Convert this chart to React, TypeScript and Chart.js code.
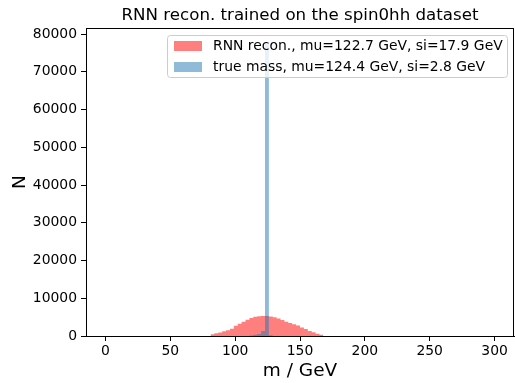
import React, { useEffect, useRef } from "react";
import { Chart, registerables } from "chart.js";

Chart.register(...registerables);

const TITLE = "RNN recon. trained on the spin0hh dataset";
const X_LABEL = "m / GeV";
const Y_LABEL = "N";
const BIN_WIDTH = 3;

const redLabel = "RNN recon., mu=122.7 GeV, si=17.9 GeV";
const redBinStarts = [81, 84, 87, 90, 93, 96, 99, 102, 105, 108, 111, 114, 117, 120, 123, 126, 129, 132, 135, 138, 141, 144, 147, 150, 153, 156, 159, 162, 165];
const redCounts = [450, 700, 900, 1250, 1550, 1950, 2700, 3250, 3800, 4300, 4800, 5100, 5200, 5300, 5300, 5150, 5000, 4650, 4250, 3800, 3450, 3100, 2750, 2250, 1850, 1350, 980, 620, 330];

const blueLabel = "true mass, mu=124.4 GeV, si=2.8 GeV";
const blueBinStarts = [111, 114, 117, 120, 123, 126];
const blueCounts = [150, 300, 550, 1300, 77700, 200];

const xTicks = [0, 50, 100, 150, 200, 250, 300];
const yTicks = [0, 10000, 20000, 30000, 40000, 50000, 60000, 70000, 80000];
const X_MIN = -15;
const X_MAX = 315;
const Y_MIN = 0;
const Y_MAX = 81590;

const RED = "rgba(255,0,0,0.5)";
const BLUE = "rgba(31,119,180,0.5)";
const FONT = "'DejaVu Sans', sans-serif";

// histogram outline: each bin drawn as a step from its left edge to its right edge
const toSteps = (starts: number[], counts: number[]) => {
  const pts = starts.map((s, i) => ({ x: s, y: counts[i] }));
  pts.push({ x: starts[starts.length - 1] + BIN_WIDTH, y: 0 });
  return pts;
};

const decorPlugin = {
  id: "decor",
  afterDatasetsDraw(chart: any) {
    const { ctx, chartArea } = chart;
    const { left, right, top, bottom } = chartArea;
    ctx.save();
    // legend
    const lx = 167.5, ly = 35.5, lw = 340, lh = 42, r = 3;
    ctx.beginPath();
    ctx.moveTo(lx + r, ly);
    ctx.lineTo(lx + lw - r, ly);
    ctx.arcTo(lx + lw, ly, lx + lw, ly + r, r);
    ctx.lineTo(lx + lw, ly + lh - r);
    ctx.arcTo(lx + lw, ly + lh, lx + lw - r, ly + lh, r);
    ctx.lineTo(lx + r, ly + lh);
    ctx.arcTo(lx, ly + lh, lx, ly + lh - r, r);
    ctx.lineTo(lx, ly + r);
    ctx.arcTo(lx, ly, lx + r, ly, r);
    ctx.closePath();
    ctx.fillStyle = "rgba(255,255,255,0.8)";
    ctx.fill();
    ctx.strokeStyle = "#cccccc";
    ctx.lineWidth = 1;
    ctx.stroke();
    ctx.fillStyle = RED;
    ctx.fillRect(174, 41, 28, 10);
    ctx.fillStyle = BLUE;
    ctx.fillRect(174, 62, 28, 10);
    ctx.fillStyle = "#000";
    ctx.font = `13.9px ${FONT}`;
    ctx.textAlign = "left";
    ctx.textBaseline = "middle";
    ctx.fillText(redLabel, 213, 46.5);
    ctx.fillText(blueLabel, 213, 67.5);
    // spines
    ctx.strokeStyle = "#000";
    ctx.lineWidth = 1;
    ctx.strokeRect(Math.round(left) + 0.5, Math.round(top) + 0.5, Math.round(right - left) - 1, Math.round(bottom - top));
    // title
    ctx.font = `16.67px ${FONT}`;
    ctx.textAlign = "center";
    ctx.textBaseline = "alphabetic";
    ctx.fillText(TITLE, (left + right) / 2, 20);
    // x label
    ctx.font = `18.5px ${FONT}`;
    ctx.fillText(X_LABEL, (left + right) / 2, 375.5);
    // y label
    ctx.translate(25, (top + bottom) / 2);
    ctx.rotate(-Math.PI / 2);
    ctx.fillText(Y_LABEL, 0, 0);
    ctx.restore();
  },
};

export default function App() {
  const ref = useRef<HTMLCanvasElement>(null);
  useEffect(() => {
    if (!ref.current) return;
    const chart = new Chart(ref.current, {
      type: "line",
      data: {
        datasets: [
          {
            label: redLabel,
            data: toSteps(redBinStarts, redCounts),
            backgroundColor: RED,
            borderColor: "rgba(0,0,0,0)",
            borderWidth: 0,
            pointRadius: 0,
            stepped: "before",
            fill: "origin",
            order: 1,
          } as any,
          {
            label: blueLabel,
            data: toSteps(blueBinStarts, blueCounts),
            backgroundColor: BLUE,
            borderColor: "rgba(0,0,0,0)",
            borderWidth: 0,
            pointRadius: 0,
            stepped: "before",
            fill: "origin",
            order: 0,
          } as any,
        ],
      },
      options: {
        animation: false,
        responsive: false,
        devicePixelRatio: 1,
        layout: { padding: { top: 28, right: 1, left: 0, bottom: 0 } },
        plugins: {
          legend: { display: false },
          title: { display: false },
          tooltip: { enabled: false },
        },
        scales: {
          x: {
            type: "linear",
            min: X_MIN,
            max: X_MAX,
            offset: false,
            afterBuildTicks: (axis: any) => {
              axis.ticks = xTicks.map((v) => ({ value: v }));
            },
            afterFit: (scale: any) => {
              scale.height = 47;
            },
            ticks: {
              color: "#000",
              font: { family: FONT, size: 13.9 },
              padding: 2,
              maxRotation: 0,
              autoSkip: false,
              callback: (v: any) => String(v),
            },
            grid: {
              drawOnChartArea: false,
              drawTicks: true,
              tickLength: 5,
              color: "#000",
              offset: false,
            },
            border: { display: true, color: "#000" },
          },
          y: {
            type: "linear",
            min: Y_MIN,
            max: Y_MAX,
            afterBuildTicks: (axis: any) => {
              axis.ticks = yTicks.map((v) => ({ value: v }));
            },
            afterFit: (scale: any) => {
              scale.width = 86;
            },
            ticks: {
              color: "#000",
              font: { family: FONT, size: 13.9 },
              padding: 4,
              autoSkip: false,
              callback: (v: any) => String(v),
            },
            grid: {
              drawOnChartArea: false,
              drawTicks: true,
              tickLength: 5,
              color: "#000",
            },
            border: { display: true, color: "#000" },
          },
        },
      },
      plugins: [decorPlugin],
    } as any);
    return () => chart.destroy();
  }, []);
  return (
    <div style={{ position: "absolute", left: 0, top: 0, width: 515, height: 383, background: "#fff" }}>
      <canvas ref={ref} width={515} height={383} />
    </div>
  );
}
